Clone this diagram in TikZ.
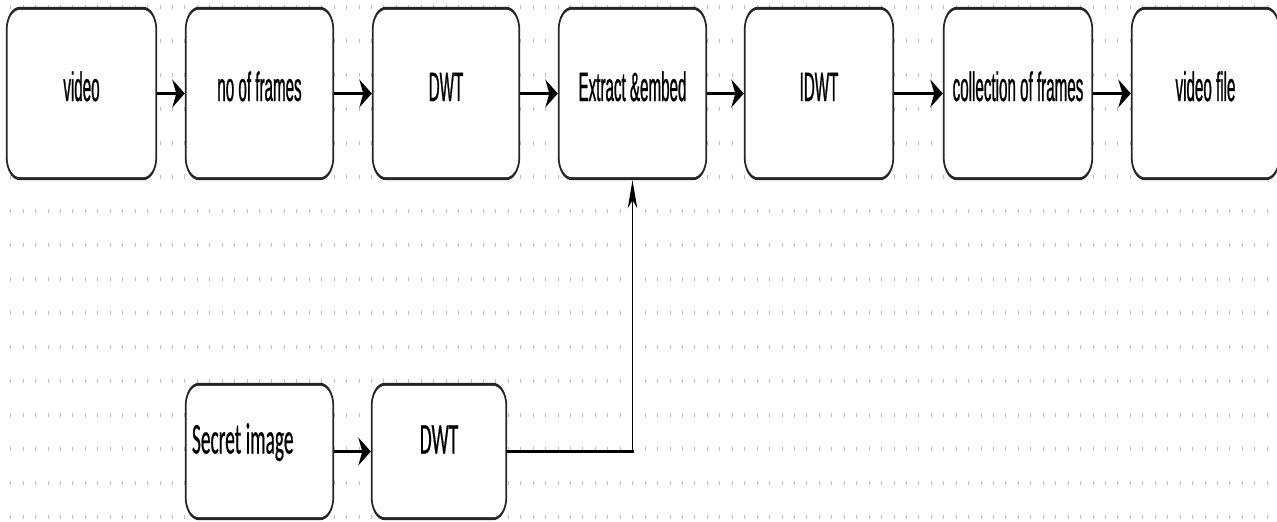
\documentclass[tikz,border=0pt]{standalone}
\usepackage{fontspec}
\usetikzlibrary{arrows.meta,calc}
\newfontfamily\topfont[FakeStretch=0.37,FakeBold=0.6]{Liberation Sans}
\newfontfamily\botfont[FakeStretch=0.44,FakeBold=0.4]{Carlito}
\pgfdeclarelayer{gridlayer}
\pgfdeclarelayer{boxlayer}
\pgfsetlayers{gridlayer,boxlayer,main}
\tikzset{
  tbox/.style={inner sep=0pt, minimum height=173pt, text height=15pt, text depth=0pt,
    font=\topfont\fontsize{41pt}{41pt}\selectfont},
  bbox/.style={inner sep=0pt, minimum height=137pt, text height=4pt, text depth=0pt,
    font=\botfont\fontsize{44pt}{44pt}\selectfont},
  flow/.style={line width=2.4pt, -{Stealth[length=12.5pt,width=28pt,inset=4pt]}},
  flowv/.style={line width=1.5pt, -{Stealth[length=28pt,width=9.5pt,inset=8pt]}},
  gridtick/.style={draw=black!25, line width=0.9pt},
}
\newcommand\roundshape[1]{%
  \fill[black!85] let \p1=(#1.north west), \p2=(#1.south east) in
    (\x1+14pt,\y1) -- (\x2-14pt,\y1) arc[start angle=90,end angle=0,x radius=14pt,y radius=23pt]
    -- (\x2,\y2+23pt) arc[start angle=0,end angle=-90,x radius=14pt,y radius=23pt]
    -- (\x1+14pt,\y2) arc[start angle=270,end angle=180,x radius=14pt,y radius=23pt]
    -- (\x1,\y1-23pt) arc[start angle=180,end angle=90,x radius=14pt,y radius=23pt] -- cycle;
  \fill[white] let \p1=(#1.north west), \p2=(#1.south east) in
    (\x1+14pt,\y1-3pt) -- (\x2-14pt,\y1-3pt) arc[start angle=90,end angle=0,x radius=12.2pt,y radius=20pt]
    -- (\x2-1.8pt,\y2+23pt) arc[start angle=0,end angle=-90,x radius=12.2pt,y radius=20pt]
    -- (\x1+14pt,\y2+3pt) arc[start angle=270,end angle=180,x radius=12.2pt,y radius=20pt]
    -- (\x1+1.8pt,\y1-23pt) arc[start angle=180,end angle=90,x radius=12.2pt,y radius=20pt] -- cycle;
}
\begin{document}
\begin{tikzpicture}[x=1pt,y=1pt]
\useasboundingbox (0,0) rectangle (1277,-522);
\begin{pgfonlayer}{gridlayer}
  \fill[white] (0,0) rectangle (1277,-522);
  \draw[gridtick] \foreach \r in {0,...,15} { \foreach \c in {0,...,101} {
    ({10.7+12.44*\c},{-7-34*\r+2}) -- ++(0,-4) } };
\end{pgfonlayer}

\node[tbox, minimum width=151pt] (video) at (81.5,-93.5) {video};
\node[tbox, minimum width=149pt] (frames) at (259.5,-93.5) {no of frames};
\node[tbox, minimum width=148pt] (dwt) at (446,-93.5) {DWT};
\node[tbox, minimum width=149pt] (extract) at (632.5,-93.5) {Extract \&embed};
\node[tbox, minimum width=150pt] (idwt) at (819,-93.5) {IDWT};
\node[tbox, minimum width=150pt] (collect) at (1018,-93.5) {collection of frames};
\node[tbox, minimum width=149pt] (vfile) at (1205.5,-93.5) {video file};
\node[bbox, minimum width=149pt, inner xsep=6.7pt, text width=135pt, align=left] (secret) at (259.5,-451.5) {Secret\hspace{4.5pt}image};
\node[bbox, minimum width=136pt] (dwtb) at (439,-451.5) {DWT};

\begin{pgfonlayer}{boxlayer}
  \roundshape{video}
  \roundshape{frames}
  \roundshape{dwt}
  \roundshape{extract}
  \roundshape{idwt}
  \roundshape{collect}
  \roundshape{vfile}
  \roundshape{secret}
  \roundshape{dwtb}
\end{pgfonlayer}

\draw[flow] (video.east) -- (frames.west);
\draw[flow] (frames.east) -- (dwt.west);
\draw[flow] (dwt.east) -- (extract.west);
\draw[flow] (extract.east) -- (idwt.west);
\draw[flow] (idwt.east) -- (collect.west);
\draw[flow] (collect.east) -- (vfile.west);
\draw[flow] (secret.east) -- (dwtb.west);
\coordinate (elbow) at (extract.south |- dwtb.east);
\draw[line width=2.2pt, line cap=rect] (dwtb.east) -- (elbow);
\draw[flowv] (elbow) -- (extract.south);
\end{tikzpicture}
\end{document}
